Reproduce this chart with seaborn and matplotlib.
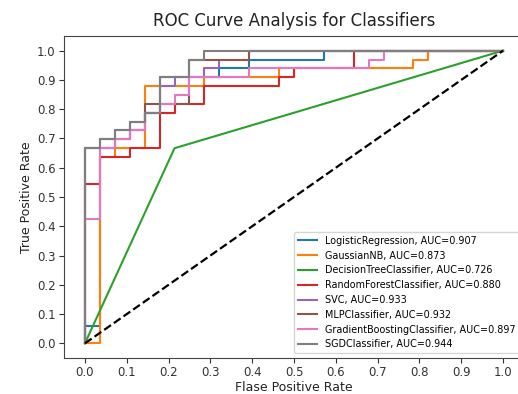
import matplotlib
matplotlib.use("Agg")
import matplotlib.pyplot as plt
import seaborn as sns
import numpy as np
import pandas as pd

# ROC corner points: FPR in units of 1/28, TPR in units of 1/33
N_NEG = 28
N_POS = 33

lr_fpr = [0, 0, 1, 1, 2, 2, 3, 3, 4, 4, 5, 5, 9, 9, 11, 11, 16, 16, 28]
lr_tpr = [0, 2, 2, 23, 23, 24, 24, 25, 25, 26, 26, 30, 30, 31, 31, 32, 32, 33, 33]

nb_fpr = [0, 1, 1, 2, 2, 4, 4, 8, 8, 13, 13, 22, 22, 23, 23, 28]
nb_tpr = [0, 0, 21, 21, 22, 22, 29, 29, 30, 30, 31, 31, 32, 32, 33, 33]

dt_fpr = [0, 6, 28]
dt_tpr = [0, 22, 33]

rf_fpr = [0, 0, 1, 1, 3, 3, 5, 5, 6, 6, 8, 8, 13, 13, 14, 14, 18, 18, 28]
rf_tpr = [0, 18, 18, 21, 21, 22, 22, 26, 26, 27, 27, 29, 29, 30, 30, 31, 31, 33, 33]

svc_fpr = [0, 0, 2, 2, 3, 3, 4, 4, 5, 5, 6, 6, 8, 8, 9, 9, 11, 11, 28]
svc_tpr = [0, 22, 22, 23, 23, 24, 24, 26, 26, 29, 29, 30, 30, 31, 31, 32, 32, 33, 33]

mlp_fpr = [0, 0, 2, 2, 3, 3, 4, 4, 7, 7, 11, 11, 28]
mlp_tpr = [0, 22, 22, 23, 23, 24, 24, 27, 27, 32, 32, 33, 33]

gb_fpr = [0, 0, 1, 1, 2, 2, 3, 3, 4, 4, 5, 5, 6, 6, 7, 7, 11, 11, 19, 19, 20, 20, 28]
gb_tpr = [0, 14, 14, 22, 22, 23, 23, 24, 24, 26, 26, 27, 27, 28, 28, 30, 30, 31, 31, 32, 32, 33, 33]

sgd_fpr = [0, 0, 1, 1, 2, 2, 3, 3, 4, 4, 5, 5, 7, 7, 8, 8, 28]
sgd_tpr = [0, 22, 22, 23, 23, 24, 24, 25, 25, 26, 26, 30, 30, 32, 32, 33, 33]

names = ["LogisticRegression", "GaussianNB", "DecisionTreeClassifier",
         "RandomForestClassifier", "SVC", "MLPClassifier",
         "GradientBoostingClassifier", "SGDClassifier"]
aucs = [0.907, 0.873, 0.726, 0.880, 0.933, 0.932, 0.897, 0.944]
curves = [(lr_fpr, lr_tpr), (nb_fpr, nb_tpr), (dt_fpr, dt_tpr), (rf_fpr, rf_tpr),
          (svc_fpr, svc_tpr), (mlp_fpr, mlp_tpr), (gb_fpr, gb_tpr), (sgd_fpr, sgd_tpr)]

colors = sns.color_palette("tab10", 8)

fig = plt.figure(figsize=(5.18, 3.94), dpi=100)
ax = fig.add_axes([64 / 518, 36 / 394, 460 / 518, 322 / 394])

for (f, t), name, auc, c in zip(curves, names, aucs, colors):
    df = pd.DataFrame({"fpr": np.array(f) / N_NEG, "tpr": np.array(t) / N_POS})
    sns.lineplot(data=df, x="fpr", y="tpr", sort=False, estimator=None,
                 color=c, lw=1.5, label=f"{name}, AUC={auc:.3f}", ax=ax)

ax.plot([0, 1], [0, 1], "k--", lw=1.6)

ax.set_xlim(-0.05, 1.05)
ax.set_ylim(-0.05, 1.05)
ax.set_xticks(np.arange(0, 1.01, 0.1))
ax.set_yticks(np.arange(0, 1.01, 0.1))
ax.tick_params(labelsize=8.5, colors="#333333", pad=2.5)
for s in ax.spines.values():
    s.set_color("#444444")
ax.set_xlabel("Flase Positive Rate", fontsize=9, color="#222222", labelpad=1)
ax.set_ylabel("True Positive Rate", fontsize=9, color="#222222", labelpad=3)
ax.set_title("ROC Curve Analysis for Classifiers", fontsize=12, color="#222222", pad=7, x=0.50)

leg = ax.legend(loc="lower right", bbox_to_anchor=(1.0, 0.0),
                prop={"family": ["Liberation Sans Narrow", "DejaVu Sans"], "size": 6.9},
                handlelength=2.0, labelspacing=0.5, borderaxespad=0.5, framealpha=0.8)

fig.savefig("out.png", dpi=100)
